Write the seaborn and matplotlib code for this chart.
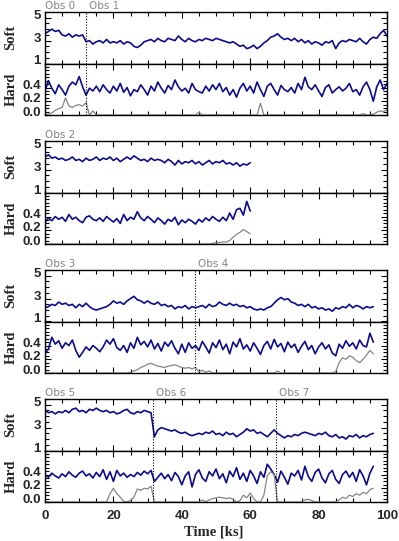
import numpy as np
import matplotlib.pyplot as plt
from matplotlib.ticker import MultipleLocator, FormatStrFormatter
import matplotlib.transforms as mtransforms
import seaborn as sns

sns.set_style("ticks")
plt.rcParams['font.family'] = ['DejaVu Sans']

# ---- light curves, one value per ks ----
# Obs 0 / Obs 1  (0 - 100 ks)
soft_a = [3.6, 3.8, 4.0, 3.8, 3.9, 3.5, 3.4, 3.6, 3.3, 3.5,
          3.4, 3.5, 2.9, 3.0, 2.7, 2.9, 3.0, 2.8, 3.1, 2.8,
          2.9, 2.8, 3.0, 2.7, 2.9, 2.8, 2.5, 2.4, 2.6, 2.9,
          3.0, 3.1, 2.9, 3.2, 3.0, 2.9, 3.2, 3.1, 3.0, 3.4,
          3.1, 2.9, 3.2, 3.0, 2.9, 3.1, 3.0, 3.2, 3.1, 3.0,
          3.2, 3.1, 3.0, 2.9, 2.8, 2.9, 2.7, 2.5, 2.6, 2.3,
          2.4, 2.6, 2.3, 2.5, 2.8, 3.0, 3.3, 3.4, 3.6, 3.3,
          3.1, 3.2, 3.0, 3.2, 2.9, 3.1, 2.8, 3.0, 2.7, 2.9,
          2.8, 2.6, 2.9, 2.8, 3.0, 2.3, 2.8, 3.0, 2.9, 3.1,
          3.0, 2.9, 3.2, 2.9, 2.7, 3.1, 3.3, 3.2, 3.6, 3.9,
          3.4]
hard_a = [0.35, 0.50, 0.39, 0.31, 0.44, 0.37, 0.29, 0.42, 0.48, 0.44,
          0.56, 0.41, 0.29, 0.39, 0.35, 0.42, 0.34, 0.44, 0.37, 0.32,
          0.42, 0.35, 0.46, 0.33, 0.40, 0.28, 0.37, 0.34, 0.44, 0.37,
          0.29, 0.42, 0.35, 0.48, 0.39, 0.32, 0.43, 0.37, 0.51, 0.41,
          0.35, 0.39, 0.32, 0.46, 0.37, 0.34, 0.32, 0.42, 0.35, 0.44,
          0.37, 0.46, 0.34, 0.40, 0.29, 0.37, 0.26, 0.39, 0.46, 0.35,
          0.42, 0.32, 0.48, 0.37, 0.27, 0.42, 0.46, 0.37, 0.29, 0.43,
          0.37, 0.34, 0.40, 0.32, 0.46, 0.37, 0.55, 0.41, 0.37, 0.44,
          0.35, 0.27, 0.40, 0.44, 0.32, 0.37, 0.41, 0.35, 0.39, 0.46,
          0.34, 0.37, 0.29, 0.41, 0.48, 0.37, 0.20, 0.41, 0.51, 0.37,
          0.46]
bkg_a = [0.00, 0.01, 0.03, 0.07, 0.09, 0.11, 0.25, 0.13, 0.11, 0.14,
         0.15, 0.13, 0.18, 0.00, 0.06, 0.00, 0.00, 0.00, 0.00, 0.00,
         0.00, 0.00, 0.00, 0.00, 0.00, 0.00, 0.00, 0.00, 0.00, 0.00,
         0.00, 0.00, 0.00, 0.00, 0.00, 0.00, 0.00, 0.00, 0.00, 0.00,
         0.00, 0.00, 0.00, 0.00, 0.00, 0.04, 0.00, 0.00, 0.00, 0.00,
         0.00, 0.00, 0.00, 0.00, 0.00, 0.00, 0.00, 0.00, 0.00, 0.00,
         0.00, 0.00, 0.00, 0.17, 0.00, 0.00, 0.00, 0.00, 0.00, 0.00,
         0.00, 0.00, 0.00, 0.00, 0.00, 0.00, 0.00, 0.00, 0.00, 0.00,
         0.00, 0.00, 0.00, 0.00, 0.00, 0.00, 0.00, 0.00, 0.00, 0.00,
         0.00, 0.00, 0.00, 0.02, 0.00, 0.00, 0.01, 0.04, 0.06, 0.05,
         0.08]

# Obs 2  (0 - 60 ks)
soft_b = [4.1, 4.3, 4.0, 4.1, 3.9, 4.0, 3.8, 3.9, 4.1, 3.8,
          3.9, 3.7, 4.0, 3.8, 3.9, 4.1, 3.8, 4.0, 3.9, 4.1,
          3.8, 4.0, 3.7, 3.9, 4.1, 3.9, 4.2, 4.0, 3.8, 3.9,
          3.7, 4.0, 3.8, 3.9, 3.8, 3.6, 3.9, 3.7, 3.4, 3.8,
          3.5, 3.7, 3.6, 3.8, 3.5, 3.7, 3.4, 3.6, 3.8, 3.5,
          3.7, 3.6, 3.8, 3.5, 3.6, 3.4, 3.6, 3.3, 3.5, 3.4,
          3.6]
hard_b = [0.31, 0.38, 0.34, 0.40, 0.36, 0.39, 0.33, 0.43, 0.36, 0.39,
          0.34, 0.31, 0.39, 0.41, 0.36, 0.34, 0.38, 0.33, 0.40, 0.36,
          0.32, 0.37, 0.30, 0.43, 0.34, 0.39, 0.36, 0.47, 0.38, 0.34,
          0.40, 0.36, 0.31, 0.38, 0.34, 0.29, 0.36, 0.33, 0.39, 0.28,
          0.35, 0.31, 0.36, 0.33, 0.29, 0.36, 0.32, 0.38, 0.34, 0.40,
          0.36, 0.33, 0.39, 0.34, 0.45, 0.36, 0.50, 0.52, 0.42, 0.62,
          0.48]
bkg_b = [0.00, 0.00, 0.00, 0.00, 0.00, 0.00, 0.00, 0.00, 0.00, 0.00,
         0.00, 0.00, 0.00, 0.00, 0.00, 0.00, 0.00, 0.00, 0.00, 0.00,
         0.00, 0.00, 0.00, 0.00, 0.00, 0.00, 0.00, 0.00, 0.00, 0.00,
         0.00, 0.00, 0.00, 0.00, 0.00, 0.00, 0.00, 0.00, 0.00, 0.00,
         0.00, 0.00, 0.00, 0.00, 0.00, 0.00, 0.00, 0.00, 0.00, 0.01,
         0.02, 0.02, 0.03, 0.03, 0.05, 0.10, 0.14, 0.17, 0.21, 0.18,
         0.15]

# Obs 3 / Obs 4  (0 - 96 ks)
soft_c = [2.2, 2.3, 2.5, 2.4, 2.7, 2.5, 2.6, 2.4, 2.5, 2.2,
          2.5, 2.3, 2.6, 2.3, 2.1, 2.0, 2.1, 2.2, 2.3, 2.5,
          2.8, 2.6, 2.7, 2.5, 2.8, 3.0, 3.2, 2.9, 2.8, 2.6,
          2.8, 2.6, 2.5, 2.7, 2.4, 2.5, 2.3, 2.4, 2.1, 2.3,
          2.2, 2.4, 2.1, 2.3, 2.2, 2.3, 2.4, 2.2, 2.5, 2.3,
          2.4, 2.7, 2.5, 2.4, 2.6, 2.4, 2.5, 2.3, 2.4, 2.2,
          2.3, 2.1, 2.0, 2.1, 2.0, 2.2, 2.3, 2.6, 2.9, 3.1,
          2.9, 3.0, 2.7, 2.6, 2.4, 2.5, 2.3, 2.5, 2.2, 2.3,
          2.1, 2.2, 2.0, 2.1, 1.9, 2.2, 2.1, 2.3, 2.2, 2.5,
          2.2, 2.4, 2.3, 2.1, 2.3, 2.2, 2.3]
hard_c = [0.28, 0.35, 0.52, 0.42, 0.47, 0.36, 0.44, 0.40, 0.48, 0.33,
          0.23, 0.30, 0.38, 0.33, 0.40, 0.36, 0.31, 0.38, 0.48, 0.42,
          0.50, 0.37, 0.33, 0.40, 0.30, 0.44, 0.36, 0.52, 0.41, 0.46,
          0.38, 0.48, 0.35, 0.43, 0.32, 0.45, 0.39, 0.47, 0.36, 0.28,
          0.42, 0.30, 0.44, 0.36, 0.40, 0.33, 0.46, 0.38, 0.29, 0.44,
          0.37, 0.48, 0.34, 0.42, 0.28, 0.45, 0.38, 0.50, 0.35, 0.41,
          0.32, 0.44, 0.36, 0.27, 0.40, 0.46, 0.35, 0.49, 0.38, 0.43,
          0.31, 0.45, 0.37, 0.42, 0.30, 0.39, 0.46, 0.34, 0.40, 0.28,
          0.38, 0.44, 0.35, 0.41, 0.29, 0.25, 0.42, 0.36, 0.47, 0.39,
          0.44, 0.35, 0.48, 0.40, 0.38, 0.58, 0.45]
bkg_c = [0.00, 0.00, 0.00, 0.00, 0.00, 0.00, 0.00, 0.00, 0.00, 0.00,
         0.00, 0.00, 0.00, 0.00, 0.00, 0.00, 0.00, 0.00, 0.00, 0.00,
         0.00, 0.00, 0.00, 0.00, 0.00, 0.01, 0.03, 0.05, 0.08, 0.10,
         0.13, 0.14, 0.12, 0.10, 0.09, 0.08, 0.10, 0.11, 0.12, 0.10,
         0.08, 0.07, 0.08, 0.06, 0.08, 0.02, 0.04, 0.01, 0.03, 0.00,
         0.00, 0.00, 0.00, 0.00, 0.00, 0.00, 0.00, 0.00, 0.00, 0.00,
         0.00, 0.00, 0.00, 0.00, 0.00, 0.00, 0.00, 0.00, 0.03, 0.00,
         0.00, 0.00, 0.00, 0.00, 0.00, 0.00, 0.00, 0.00, 0.00, 0.00,
         0.00, 0.00, 0.00, 0.00, 0.00, 0.02, 0.15, 0.22, 0.20, 0.25,
         0.23, 0.18, 0.15, 0.20, 0.26, 0.33, 0.28]

# Obs 5 / Obs 6 / Obs 7  (0 - 96 ks)
soft_d = [4.5, 4.3, 4.4, 4.2, 4.4, 4.3, 4.5, 4.3, 4.6, 4.7,
          4.4, 4.5, 4.3, 4.6, 4.5, 4.7, 4.5, 4.4, 4.5, 4.3,
          4.4, 4.2, 4.3, 4.5, 4.6, 4.3, 4.2, 4.4, 4.3, 4.5,
          4.4, 4.3, 2.2, 2.8, 3.0, 2.9, 2.8, 2.7, 2.8, 2.6,
          2.5, 2.6, 2.4, 2.3, 2.4, 2.5, 2.4, 2.6, 2.5, 2.7,
          2.4, 2.5, 2.3, 2.6, 2.4, 2.5, 2.2, 2.4, 2.6, 2.9,
          2.7, 2.8, 2.5, 2.6, 2.4, 2.2, 2.5, 2.8, 2.5, 2.3,
          2.1, 2.3, 2.2, 2.4, 2.3, 2.5, 2.6, 2.5, 2.4, 2.3,
          2.5, 2.4, 2.6, 2.3, 2.2, 2.4, 2.1, 2.2, 2.0, 2.3,
          2.2, 2.4, 2.1, 2.3, 2.2, 2.4, 2.5]
hard_d = [0.40, 0.36, 0.42, 0.38, 0.35, 0.41, 0.37, 0.44, 0.39, 0.36,
          0.42, 0.45, 0.38, 0.41, 0.35, 0.43, 0.37, 0.47, 0.33, 0.44,
          0.30, 0.46, 0.38, 0.42, 0.36, 0.40, 0.37, 0.43, 0.39, 0.45,
          0.41, 0.46, 0.30, 0.36, 0.42, 0.34, 0.40, 0.31, 0.43, 0.37,
          0.25, 0.38, 0.44, 0.22, 0.40, 0.47, 0.35, 0.30, 0.44, 0.38,
          0.48, 0.34, 0.41, 0.28, 0.45, 0.37, 0.50, 0.33, 0.42, 0.30,
          0.46, 0.38, 0.27, 0.44, 0.36, 0.55, 0.48, 0.40, 0.29, 0.45,
          0.36, 0.26, 0.42, 0.38, 0.46, 0.32, 0.52, 0.37, 0.30, 0.43,
          0.48, 0.35, 0.28, 0.41, 0.46, 0.33, 0.27, 0.40, 0.45, 0.36,
          0.43, 0.30, 0.47, 0.38, 0.25, 0.42, 0.52]
bkg_d = [0.00, 0.00, 0.00, 0.00, 0.00, 0.00, 0.00, 0.00, 0.00, 0.00,
         0.00, 0.00, 0.00, 0.00, 0.00, 0.00, 0.00, 0.00, 0.00, 0.12,
         0.20, 0.12, 0.07, 0.01, 0.00, 0.02, 0.07, 0.19, 0.17, 0.20,
         0.19, 0.23, 0.00, 0.00, 0.00, 0.00, 0.00, 0.00, 0.00, 0.00,
         0.00, 0.00, 0.00, 0.00, 0.00, 0.00, 0.03, 0.00, 0.03, 0.05,
         0.06, 0.07, 0.06, 0.05, 0.06, 0.04, 0.00, 0.02, 0.10, 0.06,
         0.13, 0.05, 0.00, 0.00, 0.10, 0.38, 0.44, 0.40, 0.00, 0.00,
         0.00, 0.00, 0.00, 0.00, 0.00, 0.00, 0.03, 0.04, 0.02, 0.00,
         0.00, 0.00, 0.00, 0.00, 0.00, 0.00, 0.03, 0.07, 0.05, 0.10,
         0.08, 0.12, 0.10, 0.14, 0.12, 0.18, 0.20]

obs_starts = [[0, 12.0], [0], [0, 43.9], [0, 31.6, 67.5]]
obs_names = [["Obs 0", "Obs 1"], ["Obs 2"], ["Obs 3", "Obs 4"],
             ["Obs 5", "Obs 6", "Obs 7"]]

groups = [(soft_a, hard_a, bkg_a), (soft_b, hard_b, bkg_b),
          (soft_c, hard_c, bkg_c), (soft_d, hard_d, bkg_d)]

navy = '#0c0c8c'
grey = '#858585'
serif = ['Liberation Serif', 'DejaVu Serif']
sans = ['Liberation Sans', 'DejaVu Sans']

W, H = 399, 541
fig = plt.figure(figsize=(W / 100, H / 100), dpi=100)
left, width = 45 / W, 342 / W
ph = 51.5
tops = [12, 141, 270, 399]
# IDL-style tick labels sit a few pixels above their ticks
lift = mtransforms.ScaledTranslation(0, 3.5 / 100, fig.dpi_scale_trans)


def style_axis(ax, soft, show_x):
    ax.set_xlim(0, 100)
    ax.xaxis.set_major_locator(MultipleLocator(20))
    ax.xaxis.set_minor_locator(MultipleLocator(5))
    if soft:
        ax.set_ylim(1, 5.5)
        ax.set_yticks([1, 3, 5])
        ax.yaxis.set_minor_locator(MultipleLocator(0.5))
        ax.yaxis.set_major_formatter(FormatStrFormatter('%d'))
    else:
        ax.set_ylim(0, 0.75)
        ax.set_yticks([0.0, 0.2, 0.4])
        ax.yaxis.set_minor_locator(MultipleLocator(0.05))
        ax.yaxis.set_major_formatter(FormatStrFormatter('%.1f'))
    ax.tick_params(which='both', direction='in', top=True, right=True,
                   color='black', width=0.8)
    ax.tick_params(which='major', length=4)
    ax.tick_params(which='minor', length=3)
    ax.tick_params(axis='y', pad=3)
    ax.tick_params(axis='x', pad=6, labelbottom=show_x)
    for lab in ax.get_xticklabels() + ax.get_yticklabels():
        lab.set_fontfamily(sans)
        lab.set_fontweight('bold')
        lab.set_fontsize(9.5)
    for tick in ax.yaxis.get_major_ticks():
        tick.label1.set_transform(tick.label1.get_transform() + lift)
    for sp in ax.spines.values():
        sp.set_color('black')
        sp.set_linewidth(1.0)
    ax.set_xlabel('')
    ax.set_ylabel('Soft' if soft else 'Hard', fontfamily=serif,
                  fontweight='bold', fontsize=10.5)
    ax.yaxis.set_label_coords(-0.08, 0.5)


for gi, (soft, hard, bkg) in enumerate(groups):
    top = tops[gi]
    ax_s = fig.add_axes([left, 1 - (top + ph) / H, width, ph / H])
    ax_h = fig.add_axes([left, 1 - (top + 2 * ph) / H, width, ph / H])
    t = np.arange(len(soft))

    sns.lineplot(x=t, y=soft, ax=ax_s, color=navy, lw=1.2)
    sns.lineplot(x=t, y=hard, ax=ax_h, color=navy, lw=1.2)
    sns.lineplot(x=t, y=bkg, ax=ax_h, color=grey, lw=0.9)

    for x0, name in zip(obs_starts[gi], obs_names[gi]):
        if x0 > 0:
            for ax in (ax_s, ax_h):
                ax.axvline(x0, color='black', lw=0.8, ls=(0, (1, 1.5)))
        tr = mtransforms.blended_transform_factory(ax_s.transData, ax_s.transAxes)
        off = mtransforms.ScaledTranslation(3 / 100 if x0 > 0 else 0, 0,
                                            fig.dpi_scale_trans)
        ax_s.text(x0, 1.02, name, transform=tr + off, color=grey,
                  fontsize=7.5, ha='left', va='bottom')

    style_axis(ax_s, True, False)
    style_axis(ax_h, False, gi == 3)

fig.text(214 / W, 1 - 532 / H, 'Time [ks]', ha='center', va='center',
         fontfamily=serif, fontweight='bold', fontsize=10.5)

fig.savefig('out.png', dpi=100)
